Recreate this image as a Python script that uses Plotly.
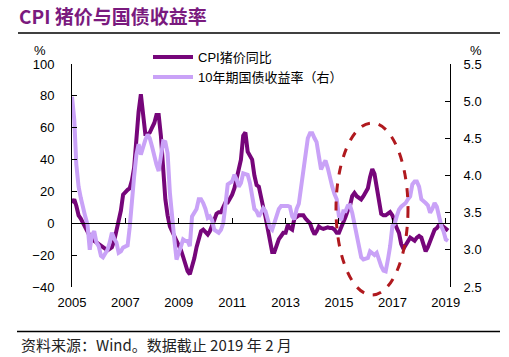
import pandas as pd
import plotly.graph_objects as go

# ---- data (monthly, Jan 2005 - Feb 2019) ----
months = pd.date_range("2005-01-01", "2019-02-01", freq="MS").strftime("%Y-%m-%d").tolist()

cpi_pork = [
    # 2005
    12.8, 15, 11, 5, 3, 0, -3, -5, -8, -10, -11, -12,
    # 2006
    -13, -14, -15, -16, -17, -16, -15, -11, -5, 0, 8, 18,
    # 2007
    20, 21, 22, 27, 35, 55, 70, 81, 65, 56, 56, 57,
    # 2008
    60, 63, 68, 68, 55, 35, 15, 5, -2, -5, -8, -10,
    # 2009
    -13, -17, -21, -25, -30, -32, -28, -22, -15, -10, -5, -4,
    # 2010
    -6, -7, -5, -2, 2, 6, 7, 7, 10, 13, 13, 15,
    # 2011
    18, 22, 28, 33, 40, 55, 57, 45, 43, 40, 30, 24,
    # 2012
    23, 15, 10, 4, -3, -10, -18, -18, -14, -10, -8, -6,
    # 2013
    -6, -1, -3, -4, 3, 4, 5, 5, 5, 3, 1, 0,
    # 2014
    -4, -7, -5, -2, -3, -3.5, -3, -2.5, -3, -3, -4, -6,
    # 2015
    -6, -3, 0, 4, 8, 11, 17, 19, 17, 16, 15, 17,
    # 2016
    20, 22, 29, 34, 31, 22, 11, 6, 5, 5, 6, 7,
    # 2017
    5, 0, -3, -6, -13, -16, -14, -12, -9, -10, -11, -9,
    # 2018
    -8, -9, -14, -17.6, -15, -11, -7, -4, -3, -1, -1, -2,
    # 2019
    -3, -4.6,
]

bond_10y = [
    # 2005
    5.06, 4.75, 4.15, 3.85, 3.70, 3.54, 3.45, 3.34, 3.00, 3.20, 3.25, 3.10,
    # 2006
    3.05, 2.92, 2.90, 2.95, 3.00, 3.10, 3.23, 3.15, 3.10, 2.96, 2.98, 3.03,
    # 2007
    3.04, 3.06, 3.30, 3.70, 3.99, 4.28, 4.42, 4.28, 4.40, 4.48, 4.55, 4.50,
    # 2008
    4.39, 4.25, 4.15, 4.06, 4.28, 4.46, 4.45, 4.30, 3.77, 3.40, 3.14, 2.87,
    # 2009
    2.95, 3.05, 3.14, 3.12, 3.12, 3.05, 3.45, 3.50, 3.55, 3.68, 3.68, 3.63,
    # 2010
    3.55, 3.43, 3.45, 3.40, 3.27, 3.25, 3.23, 3.27, 3.36, 3.60, 3.88, 3.90,
    # 2011
    3.92, 4.01, 3.95, 3.85, 3.90, 4.03, 4.02, 4.01, 3.90, 3.72, 3.55, 3.52,
    # 2012
    3.45, 3.50, 3.56, 3.52, 3.41, 3.30, 3.27, 3.38, 3.45, 3.55, 3.59, 3.59,
    # 2013
    3.60, 3.59, 3.58, 3.45, 3.41, 3.55, 3.62, 3.85, 4.00, 4.21, 4.50, 4.57,
    # 2014
    4.57, 4.50, 4.45, 4.26, 4.08, 4.15, 4.20, 4.10, 3.94, 3.85, 3.75, 3.68,
    # 2015
    3.45, 3.40, 3.52, 3.52, 3.59, 3.60, 3.50, 3.36, 3.20, 3.05, 2.90, 2.87,
    # 2016
    2.88, 2.89, 2.98, 2.95, 2.93, 2.96, 2.85, 2.78, 2.72, 2.71, 2.87, 3.05,
    # 2017
    3.32, 3.35, 3.45, 3.54, 3.58, 3.61, 3.63, 3.68, 3.72, 3.88, 3.92, 3.92,
    # 2018
    3.85, 3.68, 3.66, 3.63, 3.60, 3.50, 3.55, 3.63, 3.58, 3.45, 3.32, 3.25,
    # 2019
    3.14, 3.12,
]

year_ticks = ["2005", "2007", "2009", "2011", "2013", "2015", "2017", "2019"]
tick_dates = [y + "-01-01" for y in year_ticks]

series_names = ["CPI猪价同比", "10年期国债收益率（右）"]
title_text = "CPI 猪价与国债收益率"
source_text = "资料来源：Wind。数据截止 2019 年 2 月"

PURPLE = "#76067A"
LAVENDER = "#C9A2F7"
FONT = "Liberation Sans, Arial, Noto Sans CJK SC, sans-serif"
CJK = "Noto Sans CJK SC, sans-serif"

x_range = ["2005-01-01", "2019-02-28"]

fig = go.Figure()
fig.add_trace(go.Scatter(x=months, y=cpi_pork, name=series_names[0], mode="lines",
                         line=dict(color=PURPLE, width=4), yaxis="y"))
fig.add_trace(go.Scatter(x=months, y=bond_10y, name=series_names[1], mode="lines",
                         line=dict(color=LAVENDER, width=4), yaxis="y2"))
# invisible helper trace on the zero-line axis (carries the ticks at y=0)
fig.add_trace(go.Scatter(x=months, y=[None] * len(months), xaxis="x2", yaxis="y",
                         showlegend=False, hoverinfo="skip", mode="lines"))

W, H = 509, 357
L, R, T, B = 72, 59, 64, 70

fig.update_layout(
    width=W, height=H,
    margin=dict(l=L, r=R, t=T, b=B, pad=0, autoexpand=False),
    paper_bgcolor="white", plot_bgcolor="white",
    font=dict(family=FONT, size=13, color="#000000"),
    showlegend=True,
    legend=dict(x=(148 - L) / 378, y=(287.5 - 42) / 223.5, xanchor="left", yanchor="top",
                bgcolor="rgba(0,0,0,0)", font=dict(family=FONT, size=13),
                tracegroupgap=0, itemwidth=40),
    xaxis=dict(type="date", range=x_range, showline=False, showgrid=False, zeroline=False,
               tickvals=tick_dates, ticktext=year_ticks, ticks="",
               tickfont=dict(size=13), ticklabelstandoff=6),
    xaxis2=dict(type="date", range=x_range, overlaying="x", anchor="free", position=40 / 140,
                showline=True, linecolor="black", linewidth=1, showgrid=False, zeroline=False,
                tickvals=tick_dates, ticks="inside", ticklen=5, tickcolor="black",
                showticklabels=False),
    yaxis=dict(range=[-40, 100], dtick=20, tick0=0, showline=True, linecolor="black",
               linewidth=1, ticks="inside", ticklen=5, tickcolor="black", showgrid=False,
               zeroline=False, tickfont=dict(size=13), ticklabelstandoff=14),
    yaxis2=dict(range=[2.5, 5.5], dtick=0.5, tick0=2.5, tickformat=".1f", overlaying="y",
                side="right", showline=True, linecolor="black", linewidth=1, ticks="inside",
                ticklen=5, tickcolor="black", showgrid=False, zeroline=False,
                tickfont=dict(size=13), ticklabelstandoff=10),
)

def px_x(px):
    return (px - L) / (W - L - R)

def px_y(py):
    return (H - B - py) / (H - T - B)

annotations = [
    dict(text="<b>" + title_text + "</b>", x=px_x(17), y=px_y(15), xanchor="left", yanchor="middle",
         font=dict(family=CJK, size=19, color="#7A1A7E")),
    dict(text="%", x=px_x(40), y=px_y(50), xanchor="center", yanchor="middle",
         font=dict(family=FONT, size=13)),
    dict(text="%", x=px_x(476), y=px_y(50), xanchor="center", yanchor="middle",
         font=dict(family=FONT, size=13)),
    dict(text=source_text, x=px_x(19), y=px_y(344), xanchor="left", yanchor="middle",
         font=dict(family=CJK, size=15, color="#222222")),
]
for a in annotations:
    a.update(xref="paper", yref="paper", showarrow=False)
fig.update_layout(annotations=annotations)

shapes = [
    dict(type="line", x0=px_x(18), x1=px_x(500), y0=px_y(33), y1=px_y(33),
         line=dict(color="black", width=1.5)),
    dict(type="line", x0=px_x(17), x1=px_x(500), y0=px_y(331.5), y1=px_y(331.5),
         line=dict(color="black", width=1.5)),
    dict(type="circle", x0=px_x(336), x1=px_x(408), y0=px_y(295), y1=px_y(123),
         line=dict(color="#B0191E", width=3, dash="dash")),
]
for s in shapes:
    s.update(xref="paper", yref="paper", layer="above")
fig.update_layout(shapes=shapes)

fig.write_html(
    "out.html",
    config={"displayModeBar": False},
    post_script="document.body.style.margin='0';document.body.style.padding='0';"
                "document.documentElement.style.overflow='hidden';",
)
